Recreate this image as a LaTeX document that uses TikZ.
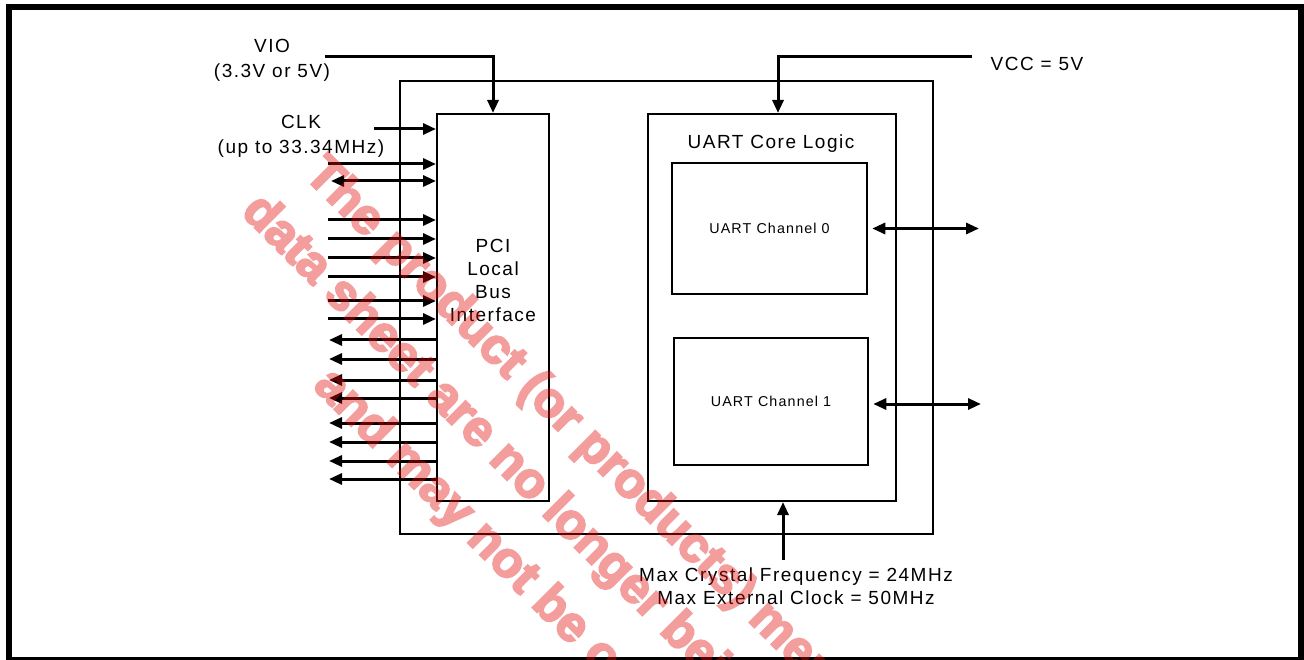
\documentclass[tikz,border=0pt]{standalone}
\usepackage{fontspec}
\setmainfont{Liberation Sans}[LetterSpace=8]
\newfontfamily\wmfont{Liberation Sans Bold}[FakeBold=4]
\usetikzlibrary{arrows.meta}
\definecolor{wmred}{RGB}{225,10,10}
\begin{document}
\begin{tikzpicture}[x=1pt,y=-1pt,
  box/.style={draw, line width=2pt, inner sep=0pt, rectangle},
  chbox/.style={box, line width=2.5pt, font=\fontsize{14.3}{17}\selectfont},
  sig/.style={line width=3pt, -{Triangle[length=13pt,width=11pt]}},
  bsig/.style={line width=3pt, {Triangle[length=13pt,width=11pt]}-{Triangle[length=13pt,width=11pt]}},
  lbl/.style={font=\fontsize{19}{25}\selectfont, align=center, inner sep=0pt},
  plbl/.style={font=\fontsize{19}{23.3}\selectfont, align=center, inner sep=0pt},
  wm/.style={font=\wmfont\fontsize{50}{54}\selectfont, text=wmred, inner sep=0pt, anchor=base west, rotate=-45}]
\useasboundingbox (0,0) rectangle (1304,660);
\draw[line width=6pt] (9,7) rectangle (1301,660);
% boxes
\node[box, minimum width=533pt, minimum height=453pt] (outer) at (666.5,307.5) {};
\node[box, minimum width=112pt, minimum height=387pt] (pci) at (493,307.5) {};
\node[box, minimum width=248pt, minimum height=387pt] (core) at (772,307.5) {};
\node[chbox, minimum width=195pt, minimum height=131pt] (ch0) at (769.5,228.5) {UART Channel 0};
\node[chbox, minimum width=194pt, minimum height=127pt] (ch1) at (771,401.5) {UART Channel 1};
% labels
\node[plbl] (pcit) at (493,280.5) {PCI\\Local\\Bus\\Interface};
\node[lbl] (coret) at (771,144) {UART Core Logic};
\node[lbl] (viot) at (272,60) {VIO\\(3.3V or 5V)};
\node[lbl] (clkt) at (301,136.5) {CLK\\(up to 33.34MHz)};
\node[lbl] (vcct) at (1037,64) {VCC = 5V};
\node[plbl] (xtalt) at (796,586) {Max Crystal Frequency = 24MHz\\Max External Clock = 50MHz};
% power and clock connectors
\coordinate (vioS) at (325,57);
\draw[sig] (vioS) -| (pci.north);
\coordinate (vccS) at (972,57);
\coordinate (vccT) at ([xshift=6pt]core.north);
\draw[sig] (vccS) -| (vccT);
\coordinate (clkS) at (374,129);
\draw[sig] (clkS) -- (clkS -| pci.west);
\coordinate (xtalS) at (783,560);
\draw[sig] (xtalS) -- (xtalS |- core.south);
% bus signals
\foreach \y [count=\i] in {164,220,239,258,277,301,319} {
  \coordinate (in\i) at (328,\y);
  \draw[sig] (in\i) -- (in\i -| pci.west);
}
\coordinate (bd) at (331,181);
\draw[bsig] (bd) -- (bd -| pci.west);
\foreach \y [count=\i] in {340,359,380,398,423,442,461,479} {
  \coordinate (out\i) at (329,\y);
  \draw[sig] (out\i -| pci.west) -- (out\i);
}
% serial ports
\coordinate (c0R) at (979,228.5);
\draw[bsig, shorten <=4pt] (ch0.east) -- (c0R);
\coordinate (c1R) at (981,404);
\draw[bsig, shorten <=4pt] (c1R -| ch1.east) -- (c1R);
% watermark
\begin{scope}[transparency group, opacity=0.4]
\node[wm] (wm1) at (303,176) {The product (or products) men};
\node[wm] (wm2) at (240,213) {data sheet are no longer bei};
\node[wm] (wm3) at (312,387) {and may not be o};
\end{scope}
\end{tikzpicture}
\end{document}
